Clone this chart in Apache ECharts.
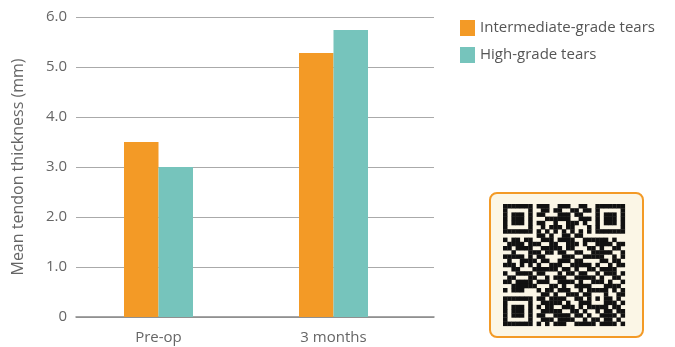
<!DOCTYPE html>
<html>
<head>
<meta charset="utf-8">
<script src="https://cdn.jsdelivr.net/npm/echarts@6/dist/echarts.min.js"></script>
<style>html,body{margin:0;padding:0;background:#fff;}#c{width:675px;height:347px;}</style>
</head>
<body>
<div id="c"></div>
<script>
var categories = ['Pre-op', '3 months'];
var intermediateGrade = [3.5, 5.28];
var highGrade = [3.0, 5.74];
var seriesNames = ['Intermediate-grade tears', 'High-grade tears'];
var yTicks = [0, 1, 2, 3, 4, 5, 6];
var yAxisTitle = 'Mean tendon thickness (mm)';

// decorative QR-like code image (29x29 modules)
var qrRows = [
"11111110111001110011001111111",
"10000010011011001101101000001",
"10111010110001110110001011101",
"10111010001111110011101011101",
"10111010110010011101001011101",
"10000010010111011000101000001",
"11111110101010101010101111111",
"00000000110100110110000000000",
"10110110011101111001111110100",
"01111011100110011101001111011",
"11011110011111011000110100110",
"00100011101101100110011111001",
"11111010110000111001111100101",
"01001111011001110110000110110",
"11101010100111001111101001011",
"00110001111110110100110111100",
"10011110110001011011001011101",
"01100011001011100111110100110",
"11011110111001111010011101001",
"00111111000110100111100011110",
"10111000101101110010111110101",
"01011110011010011101100010011",
"00000000110111100110111011010",
"00000000011111010011000111101",
"00000000101100111010111100110",
"00000000011111001101001011011",
"00000000110011110110100111101",
"00000000011101111001011011010",
"00000000101011100111110111101"
];

var N = 29;
var M = [];
for (var r = 0; r < N; r++) {
  M.push([]);
  for (var c = 0; c < N; c++) M[r].push(qrRows[r].charAt(c) === '1' ? 1 : 0);
}
function finder(r0, c0) {
  for (var r = -1; r <= 7; r++) for (var c = -1; c <= 7; c++) {
    var rr = r0 + r, cc = c0 + c;
    if (rr < 0 || cc < 0 || rr >= N || cc >= N) continue;
    var v = 0;
    if (r >= 0 && r <= 6 && c >= 0 && c <= 6) {
      if (r === 0 || r === 6 || c === 0 || c === 6) v = 1;
      else if (r >= 2 && r <= 4 && c >= 2 && c <= 4) v = 1;
    }
    M[rr][cc] = v;
  }
}
finder(0, 0); finder(0, 22); finder(22, 0);
for (var r = -2; r <= 2; r++) for (var c = -2; c <= 2; c++) {
  var m = Math.max(Math.abs(r), Math.abs(c));
  M[22 + r][22 + c] = (m === 1) ? 0 : 1;
}

var qx = 503, qy = 204, ms = 4.2;
var qrChildren = [];
for (var r = 0; r < N; r++) for (var c = 0; c < N; c++) {
  if (M[r][c]) qrChildren.push({type: 'rect', shape: {x: qx + c * ms, y: qy + r * ms, width: ms + 0.3, height: ms + 0.3}, style: {fill: '#111'}});
}

var font = 'Open Sans';
var chart = echarts.init(document.getElementById('c'));
chart.setOption({
  backgroundColor: '#ffffff',
  animation: false,
  textStyle: {fontFamily: font},
  legend: {
    orient: 'vertical', left: 460, top: 20, padding: 0, itemWidth: 15, itemHeight: 16, itemGap: 11,
    icon: 'rect',
    data: seriesNames,
    textStyle: {fontSize: 15, color: '#555', fontFamily: font}
  },
  grid: [
    {left: 76, right: 241, top: 17, bottom: 30},
    {left: 71, width: 350, top: 17, bottom: 30}
  ],
  xAxis: [
    {gridIndex: 0, type: 'category', data: categories, axisLine: {show: true, lineStyle: {color: '#888', width: 1.5}}, axisTick: {show: false}, axisLabel: {show: false}},
    {gridIndex: 1, type: 'category', data: categories, axisLine: {show: false}, axisTick: {show: false},
     axisLabel: {margin: 13, fontSize: 15, color: '#666', fontFamily: font}}
  ],
  yAxis: [
    {gridIndex: 0, type: 'value', min: yTicks[0], max: yTicks[yTicks.length - 1], interval: 1,
     name: yAxisTitle, nameLocation: 'middle', nameGap: 50, nameRotate: 90,
     nameTextStyle: {fontSize: 16, color: '#666', fontFamily: font},
     axisLine: {show: false}, axisTick: {show: false},
     axisLabel: {margin: 9, fontSize: 15, color: '#666', fontFamily: font,
       formatter: function (v) { return v === 0 ? '0' : v.toFixed(1); }},
     splitLine: {show: true, lineStyle: {color: '#aaa', width: 1}}},
    {gridIndex: 1, type: 'value', min: yTicks[0], max: yTicks[yTicks.length - 1], interval: 1, show: false, splitLine: {show: false}}
  ],
  series: [
    {name: seriesNames[0], type: 'bar', xAxisIndex: 1, yAxisIndex: 1, data: intermediateGrade, barWidth: 34.5, barGap: '0%', itemStyle: {color: '#F39A26'}},
    {name: seriesNames[1], type: 'bar', xAxisIndex: 1, yAxisIndex: 1, data: highGrade, barWidth: 34.5, barGap: '0%', itemStyle: {color: '#76C4BC'}}
  ],
  graphic: [
    {type: 'rect', shape: {x: 490, y: 193, width: 153, height: 144, r: 7}, style: {fill: '#FBF6E6', stroke: '#F39A26', lineWidth: 2}},
    {type: 'group', children: qrChildren}
  ]
});
</script>
</body>
</html>
